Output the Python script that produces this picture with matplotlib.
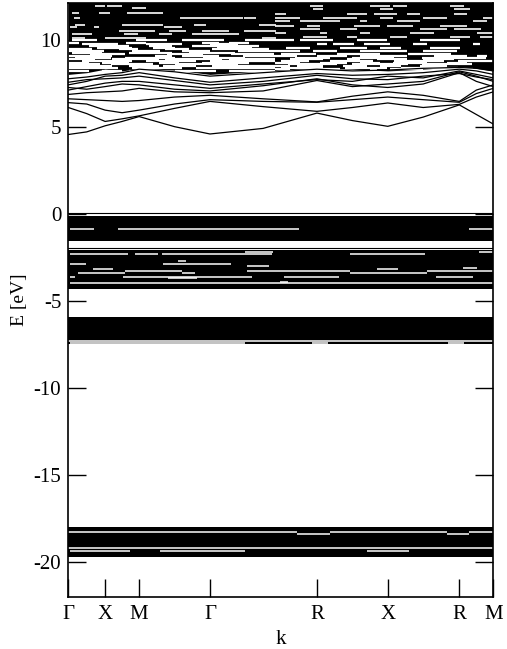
import numpy as np
import matplotlib
matplotlib.use("Agg")
import matplotlib.pyplot as plt

plt.rcParams['font.family'] = ['Liberation Serif', 'DejaVu Serif']
plt.rcParams['axes.unicode_minus'] = False

# k path (high symmetry points + midpoints)
k_pts = [0, 0.26, 0.52, 0.76, 1.0, 1.5, 2.0, 2.75, 3.51, 4.01, 4.51, 5.01, 5.52, 5.76, 6.0]
k_sym = [0, 0.52, 1.0, 2.0, 3.51, 4.51, 5.52, 6.0]
k_labels = ['Γ', 'X', 'M', 'Γ', 'R', 'X', 'R', 'M']

# lowest conduction bands (eV) at k_pts
cb1 = [4.55, 4.70, 5.05, 5.30, 5.58, 5.00, 4.58, 4.90, 5.78, 5.35, 5.02, 5.55, 6.25, 5.70, 5.15]
cb2 = [6.10, 5.75, 5.30, 5.45, 5.62, 6.05, 6.45, 6.15, 5.88, 6.10, 6.36, 6.10, 6.28, 6.70, 7.00]
cb3 = [6.38, 6.30, 5.95, 5.80, 5.95, 6.30, 6.55, 6.45, 6.40, 6.55, 6.70, 6.55, 6.40, 6.90, 7.20]
cb4 = [6.60, 6.55, 6.50, 6.45, 6.50, 6.70, 6.80, 6.60, 6.42, 6.75, 7.00, 6.80, 6.45, 7.10, 7.40]
cb5 = [6.85, 6.95, 7.00, 7.05, 7.20, 7.00, 6.95, 7.05, 7.65, 7.30, 7.45, 7.60, 8.15, 7.90, 7.60]
cb6 = [7.10, 7.30, 7.50, 7.60, 7.60, 7.40, 7.20, 7.45, 7.70, 7.60, 7.90, 7.80, 8.20, 8.00, 7.80]
cb7 = [7.40, 7.60, 7.90, 7.95, 8.10, 7.80, 7.55, 7.80, 8.05, 7.95, 8.00, 8.10, 8.30, 8.20, 8.00]
cb8 = [7.75, 7.85, 8.00, 8.10, 8.30, 8.15, 7.90, 8.10, 8.30, 8.20, 8.25, 8.35, 8.40, 8.35, 8.20]
cb9 = [7.25, 7.15, 7.30, 7.45, 7.40, 7.15, 7.05, 7.35, 7.75, 7.40, 7.25, 7.45, 8.10, 7.60, 7.30]
cb10 = [7.55, 7.70, 7.75, 7.80, 7.90, 7.65, 7.40, 7.60, 7.95, 7.75, 7.70, 7.90, 8.05, 7.85, 7.70]
cb_bands = [cb1, cb2, cb3, cb4, cb5, cb6, cb7, cb8, cb9, cb10]

# dense upper manifold: lower edge along k_pts, top beyond the plot
cb_dense_lo = [8.0, 8.1, 8.3, 8.2, 8.35, 8.25, 8.0, 8.2, 8.35, 8.3, 8.2, 8.3, 8.45, 8.35, 8.2]
cb_dense_hi = 12.5

# dense valence / semicore manifolds (top, bottom)
vb_top = [-0.11, -2.06, -5.94, -17.98]
vb_bot = [-1.55, -4.32, -7.50, -19.70]
vb_single = [0.02, -1.99]

# gaps inside the dense manifolds (E, k start, k end)
vb_gaps = [
    (-0.88, 0.02, 0.36), (-0.88, 0.70, 3.25), (-0.88, 5.65, 6.0),
    (-2.22, 2.50, 2.89), (-2.22, 5.80, 6.0),
    (-2.31, 0.02, 0.84), (-2.31, 0.94, 1.27), (-2.31, 1.32, 2.88), (-2.31, 3.98, 5.04),
    (-2.69, 1.55, 1.66),
    (-2.88, 0.02, 0.25), (-2.88, 1.34, 2.30),
    (-2.99, 2.52, 2.83),
    (-3.11, 5.57, 5.77),
    (-3.17, 0.35, 0.63), (-3.17, 4.36, 4.66),
    (-3.30, 0.80, 1.61), (-3.30, 2.52, 3.98), (-3.30, 5.07, 6.0),
    (-3.42, 0.14, 0.80), (-3.42, 1.61, 1.79), (-3.42, 3.98, 5.07),
    (-3.62, 0.02, 0.10), (-3.62, 0.77, 2.60), (-3.62, 3.05, 3.82), (-3.62, 5.19, 5.72),
    (-3.70, 1.41, 1.82),
    (-3.90, 2.99, 3.10),
    (-3.97, 0.02, 6.0),
    (-7.28, 0.0, 6.0),
    (-7.42, 0.02, 2.50), (-7.42, 3.44, 3.67), (-7.42, 5.36, 5.59),
]
semicore_gaps = [
    (-18.26, 0.0, 3.23), (-18.26, 3.70, 5.35), (-18.26, 5.65, 6.0),
    (-18.40, 3.23, 3.70), (-18.40, 5.35, 5.65),
    (-19.18, 0.0, 6.0),
    (-19.35, 0.02, 0.87), (-19.35, 1.30, 2.50), (-19.35, 4.22, 4.81),
]
cb_gaps = [
    (11.92, 0.38, 0.52), (11.92, 0.55, 0.76),
    (11.80, 0.90, 1.09),
    (11.54, 0.05, 0.15), (11.54, 0.43, 0.59), (11.54, 0.83, 1.33),
    (11.25, 0.08, 0.17), (11.25, 1.58, 2.46), (11.25, 2.48, 2.65),
    (10.83, 0.10, 0.24), (10.83, 0.76, 1.33), (10.83, 1.77, 1.94), (10.83, 2.69, 2.93),
    (10.72, 0.03, 0.12), (10.72, 0.36, 0.43), (10.72, 1.35, 1.61),
    (10.49, 0.71, 1.23), (10.49, 1.42, 1.66), (10.49, 1.89, 2.27), (10.49, 2.48, 2.93),
    (10.30, 0.05, 0.33), (10.30, 0.78, 0.99), (10.30, 1.28, 1.47), (10.30, 1.75, 2.41),
    (10.11, 0.05, 0.24), (10.11, 0.52, 1.09), (10.11, 2.74, 2.93),
    (9.95, 0.05, 0.40), (9.95, 0.95, 1.40), (9.95, 1.60, 2.20), (9.95, 2.50, 2.92),
    (9.82, 0.00, 0.15), (9.82, 0.81, 1.09), (9.82, 1.89, 2.13), (9.82, 2.27, 2.55),
    (9.72, 0.20, 0.70), (9.72, 1.10, 1.60), (9.72, 2.00, 2.40),
    (9.63, 0.29, 0.85), (9.63, 1.14, 1.47), (9.63, 1.75, 2.69),
    (9.53, 0.40, 0.90), (9.53, 1.20, 1.50), (9.53, 2.10, 2.60),
    (9.44, 0.00, 0.33), (9.44, 0.71, 0.99), (9.44, 1.37, 1.70), (9.44, 2.03, 2.83),
    (9.34, 0.00, 0.50), (9.34, 0.90, 1.30), (9.34, 1.60, 2.00), (9.34, 2.40, 2.92),
    (9.25, 0.05, 0.48), (9.25, 0.85, 1.47), (9.25, 1.70, 2.36),
    (9.15, 0.30, 0.80), (9.15, 1.40, 1.90), (9.15, 2.30, 2.90),
    (9.05, 0.00, 0.62), (9.05, 1.23, 1.47), (9.05, 1.61, 2.13), (9.05, 2.46, 2.92),
    (8.96, 0.10, 0.60), (8.96, 0.80, 1.50), (8.96, 1.90, 2.50),
    (8.87, 0.00, 0.38), (8.87, 0.62, 1.28), (8.87, 1.37, 2.17), (8.87, 2.27, 2.92),
    (8.77, 0.20, 0.90), (8.77, 1.10, 1.80), (8.77, 2.00, 2.92),
    (8.67, 0.00, 0.29), (8.67, 0.48, 0.85), (8.67, 1.28, 1.56), (8.67, 1.89, 2.55),
    (8.58, 0.00, 0.45), (8.58, 0.60, 1.20), (8.58, 1.50, 2.40),
    (8.48, 0.00, 0.62), (8.48, 0.85, 1.28), (8.48, 1.33, 1.80), (8.48, 2.03, 2.92),
    (8.38, 0.00, 0.70), (8.38, 0.90, 1.60), (8.38, 1.80, 2.92),
    (8.19, 0.00, 0.29), (8.19, 0.48, 0.76), (8.19, 0.85, 1.23), (8.19, 1.51, 2.08), (8.19, 2.27, 2.92),
    (11.92, 3.41, 3.60), (11.92, 4.26, 4.54), (11.92, 4.59, 4.78), (11.92, 5.39, 5.58),
    (11.73, 3.46, 3.60), (11.73, 4.40, 4.59), (11.73, 5.44, 5.67),
    (11.44, 2.92, 3.08), (11.44, 3.93, 4.21), (11.44, 4.31, 4.64), (11.44, 4.78, 4.97), (11.44, 5.44, 5.63),
    (11.25, 2.92, 3.27), (11.25, 3.60, 4.07), (11.25, 4.40, 4.59), (11.25, 5.01, 5.34), (11.25, 5.86, 6.00),
    (11.06, 2.92, 3.13), (11.06, 3.27, 3.84), (11.06, 4.12, 4.21), (11.06, 4.64, 4.97), (11.06, 5.72, 5.91),
    (10.77, 2.92, 3.18), (10.77, 3.37, 3.55), (10.77, 4.03, 4.40), (10.77, 4.50, 4.87), (10.77, 5.25, 5.63),
    (10.58, 3.27, 3.55), (10.58, 3.84, 4.07), (10.58, 4.97, 5.34), (10.58, 5.44, 5.82),
    (10.39, 2.92, 3.08), (10.39, 3.55, 3.65), (10.39, 4.12, 4.26), (10.39, 4.83, 5.16), (10.39, 5.77, 6.00),
    (10.14, 3.32, 3.65), (10.14, 3.93, 4.07), (10.14, 4.54, 4.78), (10.14, 5.39, 5.67), (10.14, 5.81, 6.00),
    (9.95, 2.92, 3.18), (9.95, 3.27, 3.74), (9.95, 4.07, 4.50), (9.95, 4.97, 5.53),
    (9.72, 3.51, 3.65), (9.72, 3.74, 4.03), (9.72, 4.17, 4.54), (9.72, 4.87, 5.06), (9.72, 5.72, 5.81),
    (9.53, 3.08, 3.41), (9.53, 3.84, 4.21), (9.53, 4.40, 4.69), (9.53, 5.11, 5.53),
    (9.34, 2.92, 3.27), (9.34, 3.46, 3.79), (9.34, 4.12, 4.78), (9.34, 5.01, 5.49),
    (9.15, 3.00, 3.50), (9.15, 3.80, 4.40), (9.15, 4.80, 5.40),
    (9.05, 2.92, 3.23), (9.05, 3.51, 3.93), (9.05, 4.12, 4.78), (9.05, 5.16, 5.63), (9.05, 5.77, 5.91),
    (8.96, 3.20, 3.70), (8.96, 4.00, 4.60), (8.96, 5.00, 5.90),
    (8.87, 3.13, 3.60), (8.87, 3.93, 4.12), (8.87, 4.36, 4.78), (8.87, 5.01, 5.44),
    (8.77, 3.00, 3.40), (8.77, 3.70, 4.30), (8.77, 4.60, 5.30), (8.77, 5.50, 6.00),
    (8.67, 2.92, 3.27), (8.67, 3.55, 3.93), (8.67, 4.12, 4.40), (8.67, 4.59, 5.06), (8.67, 5.34, 5.63),
    (8.58, 3.10, 3.80), (8.58, 4.00, 4.80), (8.58, 5.00, 5.70),
    (8.48, 2.92, 3.13), (8.48, 3.23, 3.60), (8.48, 3.88, 4.21), (8.48, 4.40, 4.69), (8.48, 4.97, 5.34),
    (8.38, 3.00, 3.60), (8.38, 3.90, 4.50), (8.38, 4.70, 5.50),
    (8.29, 2.92, 3.13), (8.29, 3.41, 3.84), (8.29, 4.26, 4.36), (8.29, 4.54, 5.01), (8.29, 5.34, 5.72),
    (8.10, 2.92, 3.90), (8.10, 4.10, 5.00),
]

fig = plt.figure(figsize=(5.07, 6.49), dpi=100)
ax = fig.add_axes([0.1347, 0.0801, 0.8383, 0.9153])

# dense manifolds as black blocks
ax.fill_between(k_pts, cb_dense_lo, cb_dense_hi, color='black', lw=0)
for top, bot in zip(vb_top, vb_bot):
    ax.fill_between([k_pts[0], k_pts[-1]], bot, top, color='black', lw=0)

# small gaps between bands inside the blocks
for E, k0, k1 in vb_gaps + semicore_gaps:
    ax.plot([k0, k1], [E, E], color='white', lw=1.1, solid_capstyle='butt')
for E, k0, k1 in cb_gaps:
    ax.plot([k0, k1], [E, E], color='white', lw=1.6 if E < 10 else 1.2,
            solid_capstyle='butt')

for E in vb_single:
    ax.axhline(E, color='black', lw=0.8)

for band in cb_bands:
    ax.plot(k_pts, band, color='black', lw=0.9)

ax.set_xlim(k_pts[0], k_pts[-1])
ax.set_ylim(-22, 12.1)

ax.set_xticks(k_sym)
ax.set_xticklabels(k_labels)
ax.set_yticks(np.arange(-20, 11, 5))
ax.tick_params(axis='x', direction='in', length=13, width=1, labelsize=15, pad=6)
ax.tick_params(axis='y', direction='in', length=13, width=1, labelsize=15, pad=5,
               right=True)
for s in ax.spines.values():
    s.set_linewidth(1.2)

ax.set_xlabel('k', fontsize=15, labelpad=4)
ax.set_ylabel('E [eV]', fontsize=14, labelpad=4)

plt.savefig('out.png', dpi=100, facecolor='white')
